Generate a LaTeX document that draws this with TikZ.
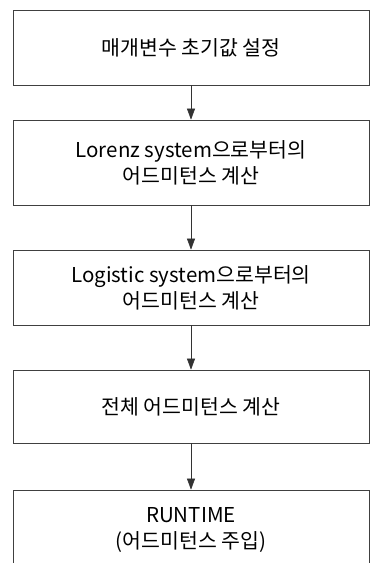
\documentclass[tikz,border=0pt]{standalone}
\usepackage{fontspec}
\setmainfont{Noto Sans CJK KR}
\usetikzlibrary{arrows.meta}
\begin{document}
\begin{tikzpicture}[x=1pt,y=-1pt,
  stepbox/.style={draw=black!75, line width=0.7pt, rectangle, minimum width=356pt, align=center, font=\fontsize{20.5}{26}\selectfont, inner sep=0pt},
  flow/.style={draw=black!80, line width=0.6pt, -{Triangle[length=11pt,width=8pt]}}]
\clip (0,0) rectangle (370,563);
\fill[white] (0,0) rectangle (370,563);
\node[stepbox, minimum height=75pt] (b1) at (191,47.5) {매개변수 초기값 설정};
\node[stepbox, minimum height=85pt] (b2) at (191,162.5) {Lorenz system으로부터의\\어드미턴스 계산};
\node[stepbox, minimum height=75pt] (b3) at (191,287.5) {Logistic system으로부터의\\어드미턴스 계산};
\node[stepbox, minimum height=73pt] (b4) at (191,406.5) {전체 어드미턴스 계산};
\node[stepbox, minimum height=80pt] (b5) at (191,530) {RUNTIME\\(어드미턴스 주입)};
\draw[flow] (b1) -- (b2);
\draw[flow] (b2) -- (b3);
\draw[flow] (b3) -- (b4);
\draw[flow] (b4) -- (b5);
\end{tikzpicture}
\end{document}
